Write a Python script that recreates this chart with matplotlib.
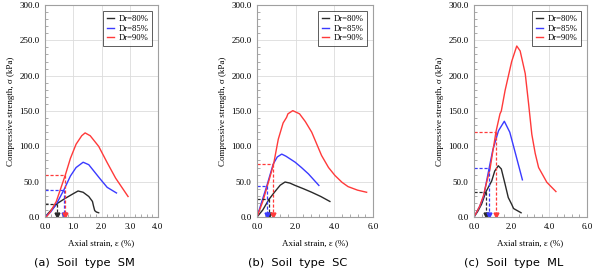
import matplotlib
matplotlib.use("Agg")
import matplotlib.pyplot as plt
from matplotlib.ticker import MultipleLocator, FormatStrFormatter

# ---------------- data ----------------
labels = ["Dr=80%", "Dr=85%", "Dr=90%"]
colors = ["#2a2a2a", "#3a3aff", "#ff3a3a"]
captions = ["(a)  Soil  type  SM", "(b)  Soil  type  SC", "(c)  Soil  type  ML"]
xmax = [4.0, 6.0, 6.0]
xmajor = [1.0, 2.0, 2.0]

# Panel (a) SM
sm_80_x = [0.0, 0.2, 0.41, 0.7, 1.0, 1.17, 1.35, 1.55, 1.68, 1.72, 1.76, 1.82, 1.9]
sm_80_y = [0.0, 9.0, 18.5, 26.0, 33.0, 36.8, 35.0, 29.0, 22.0, 15.0, 9.0, 7.0, 6.0]
sm_85_x = [0.0, 0.2, 0.4, 0.67, 0.9, 1.1, 1.35, 1.55, 1.75, 1.95, 2.2, 2.53]
sm_85_y = [0.0, 7.0, 18.0, 38.5, 58.0, 70.0, 77.5, 74.0, 64.0, 54.0, 42.0, 34.0]
sm_90_x = [0.05, 0.2, 0.4, 0.72, 0.9, 1.1, 1.3, 1.42, 1.6, 1.9, 2.2, 2.5, 2.94]
sm_90_y = [0.0, 8.0, 22.0, 59.5, 83.0, 103.0, 115.0, 119.0, 115.0, 100.0, 77.0, 55.0, 29.0]
sm_e50 = [0.41, 0.67, 0.72]
sm_s50 = [18.5, 38.5, 59.5]

# Panel (b) SC
sc_80_x = [0.0, 0.3, 0.62, 0.9, 1.2, 1.45, 1.7, 1.97, 2.4, 2.83, 3.3, 3.77]
sc_80_y = [0.0, 10.0, 25.0, 35.0, 45.0, 49.5, 48.0, 44.7, 40.0, 35.0, 29.0, 22.0]
sc_85_x = [0.0, 0.25, 0.5, 0.84, 1.05, 1.28, 1.5, 1.97, 2.3, 2.66, 3.2]
sc_85_y = [0.0, 22.0, 43.4, 75.0, 85.0, 89.0, 86.0, 77.6, 70.0, 61.0, 44.7]
sc_90_x = [0.0, 0.3, 0.6, 0.86, 1.1, 1.35, 1.53, 1.6, 1.85, 2.2, 2.5, 2.83, 3.34,
           3.7, 4.03, 4.4, 4.71, 5.2, 5.67]
sc_90_y = [0.0, 22.0, 50.0, 75.0, 110.0, 133.0, 141.0, 146.0, 150.5, 146.0, 135.0, 120.0, 87.0,
           70.0, 58.8, 49.0, 43.0, 38.0, 35.0]
sc_e50 = [0.62, 0.5, 0.85]
sc_s50 = [25.0, 43.4, 75.0]

# Panel (c) ML
ml_80_x = [0.0, 0.2, 0.4, 0.64, 0.94, 1.1, 1.29, 1.45, 1.65, 1.82, 2.0, 2.1, 2.3, 2.5]
ml_80_y = [0.0, 8.0, 18.0, 36.0, 51.0, 65.0, 72.5, 68.0, 46.5, 27.5, 18.0, 12.0, 9.0, 6.0]
ml_85_x = [0.0, 0.3, 0.5, 0.8, 1.0, 1.3, 1.61, 1.9, 2.2, 2.57]
ml_85_y = [0.0, 15.0, 28.0, 68.7, 95.0, 122.0, 135.5, 120.0, 90.0, 52.6]
ml_90_x = [0.0, 0.3, 0.5, 0.67, 0.85, 1.17, 1.38, 1.45, 1.65, 2.0, 2.27, 2.45, 2.72, 2.9,
           3.07, 3.25, 3.43, 3.87, 4.35]
ml_90_y = [0.0, 15.0, 30.0, 49.0, 68.0, 121.0, 146.0, 150.0, 179.0, 220.0, 242.0, 235.0, 203.0, 160.0,
           117.0, 90.0, 70.0, 49.0, 36.0]
ml_e50 = [0.64, 0.8, 1.17]
ml_s50 = [36.0, 68.7, 120.9]

panels = [
    ([(sm_80_x, sm_80_y), (sm_85_x, sm_85_y), (sm_90_x, sm_90_y)], sm_e50, sm_s50),
    ([(sc_80_x, sc_80_y), (sc_85_x, sc_85_y), (sc_90_x, sc_90_y)], sc_e50, sc_s50),
    ([(ml_80_x, ml_80_y), (ml_85_x, ml_85_y), (ml_90_x, ml_90_y)], ml_e50, ml_s50),
]

serif = ["Liberation Serif", "DejaVu Serif"]

fig = plt.figure(figsize=(5.94, 2.71), dpi=100)
lefts = [45 / 594, 257 / 594, 474 / 594]
rights = [158 / 594, 373 / 594, 587 / 594]
bottom = 1 - 217 / 271
top = 1 - 5 / 271
axh_px = 212.0

for i, (series, e50, s50) in enumerate(panels):
    ax = fig.add_axes([lefts[i], bottom, rights[i] - lefts[i], top - bottom])
    for (xs, ys), c, lab in zip(series, colors, labels):
        ax.plot(xs, ys, color=c, lw=1.0, label=lab)
    for e, s, c in zip(e50, s50, colors):
        ax.plot([0, e], [s, s], color=c, lw=0.9, ls=(0, (2.5, 1.5)))
        ax.plot([e, e], [s, 3], color=c, lw=0.9, ls=(0, (2.5, 1.5)))
        ax.plot([e], [3.5], marker="v", color=c, ms=3.5, mec=c)
    ax.set_xlim(0, xmax[i])
    ax.set_ylim(0, 300)
    ax.xaxis.set_major_locator(MultipleLocator(xmajor[i]))
    ax.xaxis.set_minor_locator(MultipleLocator(xmajor[i] / 5))
    ax.yaxis.set_major_locator(MultipleLocator(50))
    ax.yaxis.set_minor_locator(MultipleLocator(10))
    ax.xaxis.set_major_formatter(FormatStrFormatter("%.1f"))
    ax.yaxis.set_major_formatter(FormatStrFormatter("%.1f"))
    ax.grid(True, which="major", color="#dcdcdc", lw=0.6)
    ax.set_axisbelow(True)
    ax.tick_params(which="both", direction="in", color="#888888")
    ax.tick_params(which="major", length=0, labelsize=6.5, pad=4)
    ax.tick_params(which="minor", length=2, width=0.5)
    for lbl in ax.get_xticklabels() + ax.get_yticklabels():
        lbl.set_fontfamily(serif)
    for sp in ax.spines.values():
        sp.set_color("#a0a0a0")
        sp.set_linewidth(0.8)
    ax.set_xlabel("Axial strain, ε (%)", fontsize=6.5, family=serif, labelpad=6)
    ax.set_ylabel("Compressive strength, σ (kPa)", fontsize=6.5, family=serif, labelpad=3)
    leg = ax.legend(loc="upper right", prop={"family": serif, "size": 6.2},
                    frameon=True, fancybox=False, handlelength=0.8, handletextpad=0.5,
                    borderpad=0.45, labelspacing=0.2, borderaxespad=0.7)
    leg.get_frame().set_edgecolor("#333333")
    leg.get_frame().set_linewidth(0.7)
    ax.text(0.35, -(263 - 217) / axh_px, captions[i], transform=ax.transAxes,
            ha="center", va="center", fontsize=8.2, family=["DejaVu Sans"])

fig.savefig("out.png", dpi=100)
